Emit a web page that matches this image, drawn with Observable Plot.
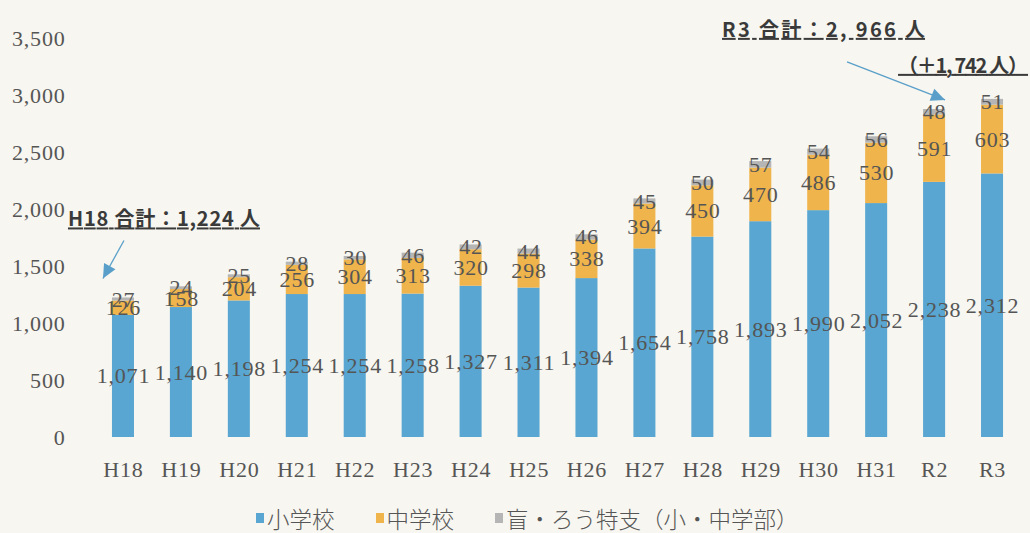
<!DOCTYPE html>
<html><head><meta charset="utf-8">
<script src="https://cdn.jsdelivr.net/npm/d3@7"></script>
<script src="https://cdn.jsdelivr.net/npm/@observablehq/plot@0.6"></script>
<style>
  body{margin:0;background:#f7f6f0;width:1030px;height:533px;overflow:hidden;}
  #chart svg{overflow:visible;display:block;}
  #legend{height:33px;display:flex;align-items:center;padding-left:256px;font-family:"Noto Sans CJK JP",sans-serif;font-size:22.5px;font-weight:300;color:#555;padding-top:2px;box-sizing:border-box;}
  .item{display:flex;align-items:center;margin-right:41px;}
  .sw{width:8px;height:10px;margin-right:3px;}
</style></head>
<body>
<div id="chart"></div>
<div id="legend"></div>
<script>
const years = ["H18","H19","H20","H21","H22","H23","H24","H25","H26","H27","H28","H29","H30","H31","R2","R3"];
const elementary = [1071,1140,1198,1254,1254,1258,1327,1311,1394,1654,1758,1893,1990,2052,2238,2312];
const junior = [126,158,204,256,304,313,320,298,338,394,450,470,486,530,591,603];
const special = [27,24,25,28,30,46,42,44,46,45,50,57,54,56,48,51];
const seriesNames = ["小学校","中学校","盲・ろう特支（小・中学部）"];
const colors = ["#58a6d1","#efb44c","#b5b5b5"];
const yTicks = [0,500,1000,1500,2000,2500,3000,3500];

const seriesValues = [elementary, junior, special];
const rows = [];
years.forEach((yr, i) => seriesValues.forEach((arr, k) => rows.push({year: yr, series: seriesNames[k], value: arr[i]})));
const totals = years.map((_, i) => elementary[i] + junior[i] + special[i]);
const fmt = d3.format(",");
const n = years.length - 1;

function arrow(g, x1, y1, x2, y2, color) {
  g.append("line").attr("x1", x1).attr("y1", y1).attr("x2", x2).attr("y2", y2)
    .attr("stroke", color).attr("stroke-width", 1.3);
  const a = Math.atan2(y2 - y1, x2 - x1), L = 14, W = 6.5;
  const bx = x2 - L * Math.cos(a), by = y2 - L * Math.sin(a);
  const px = -Math.sin(a) * W, py = Math.cos(a) * W;
  g.append("polygon").attr("points", `${x2},${y2} ${bx + px},${by + py} ${bx - px},${by - py}`).attr("fill", color);
}

function annotations(index, scales) {
  const x = scales.x, y = scales.y, bw = x.bandwidth();
  const g = d3.create("svg:g").attr("font-family", "'Noto Sans CJK JP', sans-serif")
    .attr("font-weight", "bold").attr("font-size", 20).attr("fill", "#3a3a3a").style("letter-spacing", "0px");
  const cx0 = x(years[0]) + bw / 2, top0 = y(totals[0]);
  const cxN = x(years[n]) + bw / 2, topN = y(totals[n]);
  const addText = (str, tx, ty, anchor, len) => {
    g.append("text").attr("x", tx).attr("y", ty).attr("text-anchor", anchor)
      .attr("textLength", len).attr("lengthAdjust", "spacing")
      .style("text-decoration", "underline").text(str);
  };
  addText(`${years[0]} 合計：${fmt(totals[0])} 人`, cx0 - 55, top0 - 71, "start", 192);
  addText(`${years[n]} 合計：${fmt(totals[n]).replace(",", ", ")} 人`, cxN - 270, topN - 62, "start", 203);
  addText(`（＋${fmt(totals[n] - totals[0]).replace(",", ", ")} 人）`, cxN + 36, topN - 26, "end", 130);
  arrow(g, cx0 + 1, top0 - 57, cx0 - 20, top0 - 19, "#5a9fc9");
  arrow(g, cxN - 145, topN - 37, cxN - 47, topN + 1, "#5a9fc9");
  return g.node();
}

const chart = Plot.plot({
  width: 1030,
  height: 500,
  marginLeft: 94,
  marginRight: 9,
  marginTop: 38,
  marginBottom: 63,
  style: {background: "transparent", fontFamily: "'Liberation Serif', serif", color: "#555", letterSpacing: "0.8px"},
  x: {domain: years, paddingInner: 0.62, paddingOuter: 0.31, round: false, label: null},
  y: {domain: [0, 3500], label: null},
  color: {domain: seriesNames, range: colors},
  marks: [
    Plot.barY(rows, {x: "year", y: "value", fill: "series", order: seriesNames}),
    Plot.axisY({ticks: yTicks, tickFormat: fmt, tickSize: 0, tickPadding: 29, fontSize: 22, fill: "#555", label: null}),
    Plot.axisX({tickSize: 0, tickPadding: 24, fontSize: 22, fill: "#555", label: null}),
    Plot.text(rows, Plot.stackY({x: "year", y: "value", z: "series", order: seriesNames, text: d => fmt(d.value), fontSize: 22, fill: "#555"})),
    annotations
  ]
});
document.getElementById("chart").appendChild(chart);

const legend = d3.select("#legend");
seriesNames.forEach((name, k) => {
  const it = legend.append("div").attr("class", "item");
  it.append("div").attr("class", "sw").style("background", colors[k]);
  it.append("span").text(name);
});
</script>
</body></html>
